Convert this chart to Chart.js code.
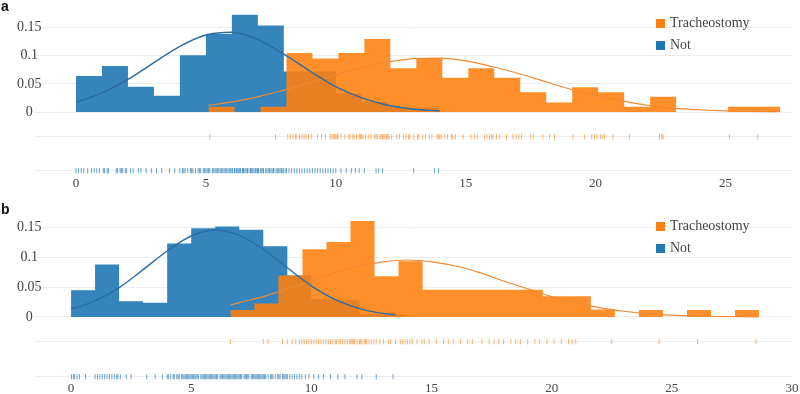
<!DOCTYPE html>
<html>
<head>
<meta charset="utf-8">
<script src="https://cdn.jsdelivr.net/npm/chart.js@4.4.0/dist/chart.umd.min.js"></script>
<style>
  body { margin: 0; background: #fff; width: 800px; height: 394px; overflow: hidden; }
  .panel { position: relative; width: 800px; height: 197px; }
  .tag { position: absolute; left: 1px; font: bold 14px/14px "Liberation Sans", Arial, sans-serif; color: #111; }
  .legend { position: absolute; left: 656px; font: 14px "Liberation Serif", serif; color: #444; }
  .legend div { height: 22px; display: flex; align-items: center; }
  .legend .box { width: 9px; height: 9px; margin-right: 5px; }
</style>
</head>
<body>
<div class="panel">
  <canvas id="chartA" width="800" height="197"></canvas>
  <div class="tag" style="top:-1px">a</div>
  <div class="legend" style="top:12px">
    <div><span class="box" style="background:#ff7f0e"></span>Tracheostomy</div>
    <div><span class="box" style="background:#1f77b4"></span>Not</div>
  </div>
</div>
<div class="panel">
  <canvas id="chartB" width="800" height="197"></canvas>
  <div class="tag" style="top:5px">b</div>
  <div class="legend" style="top:18px">
    <div><span class="box" style="background:#ff7f0e"></span>Tracheostomy</div>
    <div><span class="box" style="background:#1f77b4"></span>Not</div>
  </div>
</div>
<script>
// tick values / labels
const xTicksA = [0, 5, 10, 15, 20, 25];
const xTicksB = [0, 5, 10, 15, 20, 25, 30];
const yTicks = [0, 0.05, 0.1, 0.15];
const yTickLabels = ['0', '0.05', '0.1', '0.15'];
const binWidth = 1;

// ---- panel a ----
// histogram densities (probability density, bin width 1)
const aNotStart = 0;
const aNotDensity = [0.064, 0.082, 0.045, 0.029, 0.101, 0.139, 0.173, 0.154, 0.072, 0.072, 0.033, 0.018, 0.008, 0.008];
const aTrachStart = 5.1;
const aTrachDensity = [0.0095, 0, 0.0095, 0.105, 0.095, 0.105, 0.130, 0.078, 0.096, 0.061, 0.078, 0.061,
  0.035, 0.017, 0.044, 0.035, 0.0095, 0.027, 0, 0, 0.0095, 0.0095];
// fitted curves
const aNotCurveX = [0, 1, 2, 3, 4, 5, 6, 7, 8, 9, 10, 11, 12, 13, 14];
const aNotCurveY = [0.017, 0.034, 0.058, 0.088, 0.117, 0.137, 0.142, 0.129, 0.103, 0.073, 0.045, 0.025, 0.012, 0.005, 0.002];
const aTrachCurveX = [5.1, 6, 7, 8, 9, 10, 11, 12, 13, 14, 15, 16, 17, 18, 19, 20, 21, 22, 23, 24, 25, 26, 27];
const aTrachCurveY = [0.0118, 0.018, 0.027, 0.039, 0.052, 0.066, 0.079, 0.089, 0.095, 0.096, 0.091, 0.081,
  0.069, 0.055, 0.041, 0.029, 0.020, 0.012, 0.007, 0.004, 0.002, 0.001, 0.0005];
// rug values
const aNotRug = [0.0, 0.1, 0.2, 0.3, 0.45, 0.6, 0.7, 0.8, 0.9,
  1.05, 1.1, 1.2, 1.25, 1.55, 1.6, 1.7, 1.75, 1.8, 1.9, 1.95,
  2.1, 2.2, 2.4, 2.5, 2.7, 2.9,
  3.1, 3.3, 3.6, 3.8,
  4.0, 4.1, 4.15, 4.2, 4.3, 4.4, 4.45, 4.5, 4.6, 4.7, 4.75, 4.8, 4.9, 4.95,
  5.0, 5.05, 5.1, 5.15, 5.25, 5.3, 5.35, 5.4, 5.45, 5.5, 5.55, 5.6, 5.65, 5.7, 5.75, 5.8, 5.85, 5.9, 5.95,
  6.0, 6.03, 6.1, 6.12, 6.18, 6.2, 6.25, 6.3, 6.33, 6.4, 6.42, 6.45, 6.5, 6.55, 6.6, 6.62, 6.7, 6.72, 6.75, 6.8, 6.85, 6.9, 6.93, 6.98,
  7.0, 7.03, 7.1, 7.15, 7.2, 7.22, 7.3, 7.35, 7.4, 7.45, 7.5, 7.55, 7.6, 7.62, 7.7, 7.75, 7.8, 7.85, 7.9, 7.93, 7.98,
  8.05, 8.1, 8.2, 8.3, 8.4, 8.5, 8.6, 8.7, 8.8, 8.9,
  9.0, 9.1, 9.2, 9.3, 9.4, 9.5, 9.6, 9.7, 9.8, 9.9,
  10.0, 10.2, 10.4, 10.6, 10.75, 10.9, 11.1, 11.55, 11.65, 11.8, 13.0, 13.8, 13.95];
const aTrachRug = [5.15, 7.68,
  8.15, 8.25, 8.35, 8.45, 8.5, 8.6, 8.7, 8.78, 8.85, 8.95, 9.05,
  9.3, 9.45, 9.6, 9.78, 9.85, 9.9, 9.95, 10.0, 10.05, 10.08,
  10.2, 10.35, 10.5, 10.55, 10.65, 10.7, 10.8, 10.9, 10.95, 11.0, 11.05,
  11.15, 11.25, 11.35, 11.5, 11.55, 11.6, 11.7, 11.75, 11.8, 11.85, 11.9, 11.95, 12.0, 12.05,
  12.15, 12.35, 12.45, 12.6, 12.7, 12.8, 12.85, 13.0,
  13.15, 13.2, 13.35, 13.45, 13.6, 13.7, 13.9, 13.95, 14.0, 14.05,
  14.2, 14.3, 14.45, 14.5, 14.6, 14.9,
  15.2, 15.35, 15.45, 15.73, 15.82, 15.92, 16.0, 16.05,
  16.18, 16.31, 16.57, 16.82, 16.95, 17.05,
  17.15, 17.5, 17.6, 17.97, 18.23, 18.42,
  19.13, 19.58, 19.85, 19.96, 20.05, 20.2, 20.28, 20.35, 20.67,
  21.3, 22.46, 22.55, 22.6, 25.15, 26.24];

// ---- panel b ----
const bNotStart = 0;
const bNotDensity = [0.0445, 0.0874, 0.0264, 0.0236, 0.1225, 0.148, 0.151, 0.1456, 0.118, 0.069, 0.030, 0.028, 0.004, 0.004];
const bTrachStart = 6.63;
const bTrachDensity = [0.0115, 0.0225, 0.069, 0.113, 0.125, 0.16, 0.068, 0.093, 0.0456, 0.0456, 0.0456,
  0.0456, 0.0456, 0.0346, 0.0346, 0.0126, 0, 0.0115, 0, 0.0115, 0, 0.0115];
const bNotCurveX = [0, 1, 2, 3, 4, 5, 6, 7, 8, 9, 10, 11, 12, 13, 13.5];
const bNotCurveY = [0.013, 0.027, 0.049, 0.079, 0.110, 0.135, 0.145, 0.136, 0.113, 0.082, 0.052, 0.029, 0.014, 0.006, 0.004];
const bTrachCurveX = [6.63, 7, 8, 9, 10, 11, 12, 13, 14, 15, 16, 17, 18, 19, 20, 21, 22, 23, 24, 25, 26, 27, 28, 28.6];
const bTrachCurveY = [0.020, 0.024, 0.034, 0.047, 0.060, 0.074, 0.085, 0.092, 0.095, 0.092, 0.085, 0.074,
  0.060, 0.047, 0.034, 0.024, 0.0155, 0.0096, 0.0056, 0.0031, 0.0016, 0.0008, 0.0004, 0.0002];
const bNotRug = [0.02, 0.1, 0.15, 0.25, 0.35, 0.6,
  1.0, 1.1, 1.2, 1.3, 1.4, 1.5, 1.6, 1.7, 1.8, 1.9, 1.95,
  2.05, 2.3, 2.5, 3.15, 3.5, 3.8,
  4.0, 4.05, 4.15, 4.25, 4.3, 4.4, 4.45, 4.5, 4.6, 4.65, 4.7, 4.75, 4.8, 4.85, 4.9, 4.95,
  5.0, 5.05, 5.1, 5.15, 5.2, 5.25, 5.3, 5.4, 5.45, 5.5, 5.55, 5.6, 5.65, 5.7, 5.75, 5.8, 5.85, 5.9, 5.95,
  6.0, 6.05, 6.1, 6.2, 6.25, 6.3, 6.35, 6.4, 6.45, 6.5, 6.55, 6.6, 6.65, 6.7, 6.75, 6.8, 6.85, 6.9, 6.95,
  7.0, 7.05, 7.1, 7.2, 7.25, 7.3, 7.35, 7.4, 7.5, 7.55, 7.6, 7.65, 7.7, 7.75, 7.8, 7.85, 7.9, 7.95,
  8.0, 8.05, 8.1, 8.2, 8.3, 8.35, 8.4, 8.5, 8.6, 8.65, 8.7, 8.8, 8.85, 8.9, 8.95,
  9.0, 9.1, 9.2, 9.3, 9.4, 9.5, 9.6, 9.75, 9.9,
  10.1, 10.3, 10.5, 10.8, 11.1, 11.4, 11.9, 12.1, 12.7, 13.4];
const bTrachRug = [6.63, 8.0, 8.2,
  8.8, 9.0, 9.2, 9.35, 9.5, 9.6,
  9.7, 9.8, 9.9, 10.0, 10.1, 10.2, 10.3, 10.4, 10.5, 10.6,
  10.7, 10.8, 10.9, 11.0, 11.05, 11.15, 11.2, 11.3, 11.4, 11.5, 11.6,
  11.65, 11.7, 11.75, 11.8, 11.9, 12.0, 12.05, 12.1, 12.2, 12.25, 12.3, 12.4, 12.5, 12.6,
  12.7, 12.85, 13.0, 13.2, 13.3, 13.5,
  13.7, 13.8, 13.9, 14.0, 14.1, 14.2, 14.4, 14.6,
  14.7, 14.9, 15.2, 15.5, 15.7, 15.9, 16.2, 16.5,
  16.7, 17.1, 17.4, 17.6, 17.8, 18.0, 18.3, 18.5,
  18.7, 19.0, 19.3, 19.5, 19.8, 20.1, 20.4, 20.7, 20.85, 21.0,
  22.5, 24.47, 26.07, 28.5];

const tickFont = { family: '"Liberation Serif", "DejaVu Serif", serif', size: 13 };
const yTickFont = { family: '"Liberation Serif", "DejaVu Serif", serif', size: 14 };
const gridColor = '#ebedf1';

function histPoints(start, dens) {
  const pts = dens.map((d, i) => ({ x: start + i * binWidth, y: d }));
  pts.push({ x: start + dens.length * binWidth, y: 0 });
  return pts;
}
function curvePoints(xs, ys) {
  return xs.map((x, i) => ({ x: x, y: ys[i] }));
}
function rugPoints(xs, y) {
  return xs.map(x => ({ x: x, y: y }));
}

function drawPanel(id, p) {
  new Chart(document.getElementById(id), {
    type: 'line',
    data: {
      datasets: [
        // first dataset is drawn on top
        { data: curvePoints(p.notCurveX, p.notCurveY), borderColor: '#2b6ca3', borderWidth: 1.4,
          pointRadius: 0, tension: 0.4, cubicInterpolationMode: 'monotone', fill: false },
        { data: curvePoints(p.trachCurveX, p.trachCurveY), borderColor: '#ef8a33', borderWidth: 1.2,
          pointRadius: 0, tension: 0.4, cubicInterpolationMode: 'monotone', fill: false },
        { data: histPoints(p.trachStart, p.trachDens), stepped: 'before', fill: 'origin',
          backgroundColor: 'rgba(255,127,14,0.88)', borderColor: 'rgba(0,0,0,0)', borderWidth: 1, pointRadius: 0 },
        { data: histPoints(p.notStart, p.notDens), stepped: 'before', fill: 'origin',
          backgroundColor: 'rgba(31,119,180,0.9)', borderColor: 'rgba(0,0,0,0)', borderWidth: 1, pointRadius: 0 },
        { data: rugPoints(p.trachRug, p.rugY[0]), showLine: false, pointStyle: 'line', pointRotation: 90,
          pointRadius: 2.6, pointBorderWidth: 1, pointBorderColor: 'rgba(255,127,14,0.6)' },
        { data: rugPoints(p.notRug, p.rugY[1]), showLine: false, pointStyle: 'line', pointRotation: 90,
          pointRadius: 2.6, pointBorderWidth: 1, pointBorderColor: 'rgba(31,119,180,0.65)' }
      ]
    },
    options: {
      responsive: false,
      animation: false,
      devicePixelRatio: 1,
      events: [],
      layout: { padding: { top: p.top, right: 8, left: 0, bottom: 0 } },
      plugins: { legend: { display: false }, tooltip: { enabled: false } },
      scales: {
        x: {
          type: 'linear',
          min: p.xMin, max: p.xMax,
          afterBuildTicks: s => { s.ticks = p.xTicks.map(v => ({ value: v })); },
          afterFit: s => { s.height = p.xAxisHeight; },
          grid: { display: false },
          border: { display: false },
          ticks: { font: tickFont, color: '#444', padding: p.xPad, maxRotation: 0, autoSkip: false }
        },
        y: {
          min: p.yMin, max: p.yMax,
          afterBuildTicks: s => {
            s.ticks = [p.rugY[1], p.rugY[0]].concat(yTicks).map(v => ({ value: v }));
          },
          afterFit: s => { s.width = 35; },
          grid: { color: gridColor, drawTicks: false },
          border: { display: false },
          ticks: {
            font: yTickFont, color: '#444', mirror: true, crossAlign: 'center', padding: -18, autoSkip: false,
            callback: v => {
              const i = yTicks.indexOf(v);
              return i >= 0 ? yTickLabels[i] : '';
            }
          }
        }
      }
    }
  });
}

drawPanel('chartA', {
  notStart: aNotStart, notDens: aNotDensity, trachStart: aTrachStart, trachDens: aTrachDensity,
  notCurveX: aNotCurveX, notCurveY: aNotCurveY, trachCurveX: aTrachCurveX, trachCurveY: aTrachCurveY,
  notRug: aNotRug, trachRug: aTrachRug, rugY: [-0.044, -0.1044],
  xTicks: xTicksA, xMin: -1.578, xMax: 27.56, yMin: -0.1121, yMax: 0.1833, top: 9, xAxisHeight: 22, xPad: -7
});
drawPanel('chartB', {
  notStart: bNotStart, notDens: bNotDensity, trachStart: bTrachStart, trachDens: bTrachDensity,
  notCurveX: bNotCurveX, notCurveY: bNotCurveY, trachCurveX: bTrachCurveX, trachCurveY: bTrachCurveY,
  notRug: bNotRug, trachRug: bTrachRug, rugY: [-0.0412, -0.0995],
  xTicks: xTicksB, xMin: -1.5, xMax: 30, yMin: -0.1067, yMax: 0.1767, top: 14, xAxisHeight: 13, xPad: -8
});
</script>
</body>
</html>
